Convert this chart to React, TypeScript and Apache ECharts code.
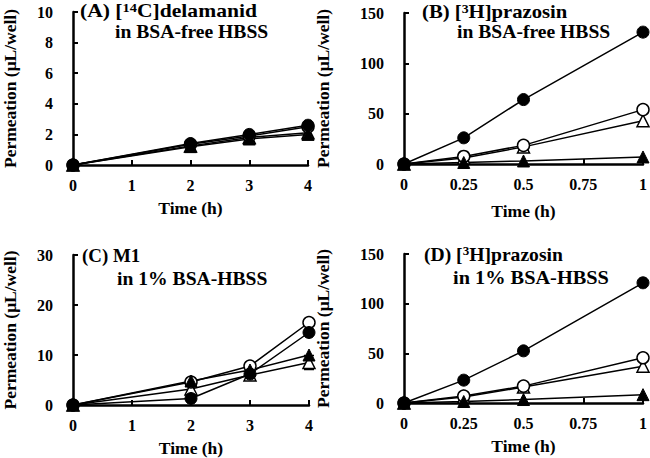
import React, { useEffect, useRef } from "react";
import * as echarts from "echarts";

const timesAC = [0, 2, 3, 4];
const timesBD = [0, 0.25, 0.5, 1];

const aFilledCircle = [0, 1.4, 2.0, 2.6];
const aOpenCircle = [0, 1.35, 1.9, 2.5];
const aFilledTriangle = [0, 1.2, 1.7, 2.0];
const aOpenTriangle = [0, 1.25, 1.8, 2.1];

const bFilledCircle = [0, 26, 64, 131];
const bOpenCircle = [0, 7.5, 18.5, 54];
const bOpenTriangle = [0, 6, 17, 43];
const bFilledTriangle = [0, 1.5, 3, 7];

const cFilledCircle = [0, 1.3, 6.2, 14.5];
const cOpenCircle = [0, 4.6, 7.8, 16.5];
const cFilledTriangle = [0, 4.8, 7.0, 10.0];
const cOpenTriangle = [0, 3.2, 6.0, 8.5];
const cOpenTriangleErr = [0, 0, 0, 1.4];

const dFilledCircle = [0, 23, 52.5, 121];
const dOpenCircle = [0, 7, 17, 45.5];
const dOpenTriangle = [0, 6, 16, 37];
const dFilledTriangle = [0, 1.5, 3.5, 8.4];

const xTicksAC = { min: 0, max: 4, interval: 1 };
const xTicksBD = { min: 0, max: 1, interval: 0.25 };
const yTicksA = { min: 0, max: 10, interval: 2 };
const yTicksB = { min: 0, max: 150, interval: 50 };
const yTicksC = { min: 0, max: 30, interval: 10 };
const yTicksD = { min: 0, max: 150, interval: 50 };

const panelTitles = [
  ["(A) [{sup|14}C]delamanid", "in BSA-free HBSS"],
  ["(B) [{sup|3}H]prazosin", "in BSA-free HBSS"],
  ["(C) M1", "in 1% BSA-HBSS"],
  ["(D) [{sup|3}H]prazosin", "in 1% BSA-HBSS"],
];
const xName = "Time (h)";
const yName = "Permeation (μL/well)";

const FONT = "Liberation Serif";

export default function App() {
  const ref = useRef<HTMLDivElement>(null);
  useEffect(() => {
    if (!ref.current) return;
    const chart = echarts.init(ref.current, null, { renderer: "svg" });

    const grids = [
      { left: 62, top: 12, width: 246, height: 153 },
      { left: 404, top: 13, width: 239, height: 151 },
      { left: 62, top: 255, width: 247, height: 151 },
      { left: 404, top: 254, width: 239, height: 149 },
    ];
    const xTicks = [xTicksAC, xTicksBD, xTicksAC, xTicksBD];
    const yTicks = [yTicksA, yTicksB, yTicksC, yTicksD];
    const yNameGaps = [54, 72, 54, 72];
    const xNameGaps = [34, 38, 34, 34];

    const axisLine = { show: true, lineStyle: { color: "#000", width: 2.5 } };
    const axisTick = { show: true, inside: true, length: 5, lineStyle: { color: "#000", width: 2 } };
    const axisLabel = { color: "#000", fontFamily: FONT, fontWeight: "bold", fontSize: 16 };
    const nameStyle = { color: "#000", fontFamily: FONT, fontWeight: "bold", fontSize: 17.5 };

    const xAxis = xTicks.map((t, i) => ({
      type: "value",
      gridIndex: i,
      ...t,
      axisLine,
      axisTick,
      splitLine: { show: false },
      axisLabel: { ...axisLabel, margin: 12 },
      name: xName,
      nameLocation: "middle",
      nameGap: xNameGaps[i],
      nameTextStyle: nameStyle,
    }));
    const yAxis = yTicks.map((t, i) => ({
      type: "value",
      gridIndex: i,
      ...t,
      axisLine,
      axisTick,
      splitLine: { show: false },
      axisLabel: { ...axisLabel, margin: 20 },
      name: yName,
      nameLocation: "middle",
      nameGap: yNameGaps[i],
      nameTextStyle: nameStyle,
    }));

    const styles: Record<string, any> = {
      openTriangle: { symbol: "triangle", itemStyle: { color: "#fff", borderColor: "#000", borderWidth: 1.5 } },
      openCircle: { symbol: "circle", itemStyle: { color: "#fff", borderColor: "#000", borderWidth: 1.5 } },
      filledCircle: { symbol: "circle", itemStyle: { color: "#000", borderColor: "#000", borderWidth: 1 } },
      filledTriangle: { symbol: "triangle", itemStyle: { color: "#000", borderColor: "#000", borderWidth: 1 } },
    };

    const panels = [
      { t: timesAC, d: { openTriangle: aOpenTriangle, openCircle: aOpenCircle, filledCircle: aFilledCircle, filledTriangle: aFilledTriangle } },
      { t: timesBD, d: { openTriangle: bOpenTriangle, openCircle: bOpenCircle, filledCircle: bFilledCircle, filledTriangle: bFilledTriangle } },
      { t: timesAC, d: { openTriangle: cOpenTriangle, openCircle: cOpenCircle, filledCircle: cFilledCircle, filledTriangle: cFilledTriangle } },
      { t: timesBD, d: { openTriangle: dOpenTriangle, openCircle: dOpenCircle, filledCircle: dFilledCircle, filledTriangle: dFilledTriangle } },
    ];

    const series: any[] = [];
    series.push({
      type: "custom",
      xAxisIndex: 2,
      yAxisIndex: 2,
      z: 1,
      data: timesAC.map((t, i) => [t, cOpenTriangle[i], cOpenTriangleErr[i]]),
      renderItem: (params: any, api: any) => {
        const x = api.value(0);
        const y = api.value(1);
        const e = api.value(2);
        if (!e) return null;
        const lo = api.coord([x, y - e]);
        const hi = api.coord([x, y + e]);
        const w = 5;
        const st = { stroke: "#000", lineWidth: 1.5 };
        return {
          type: "group",
          children: [
            { type: "line", shape: { x1: lo[0], y1: lo[1], x2: hi[0], y2: hi[1] }, style: st },
            { type: "line", shape: { x1: lo[0] - w, y1: lo[1], x2: lo[0] + w, y2: lo[1] }, style: st },
            { type: "line", shape: { x1: hi[0] - w, y1: hi[1], x2: hi[0] + w, y2: hi[1] }, style: st },
          ],
        };
      },
    });
    panels.forEach((p, i) => {
      Object.entries(p.d).forEach(([k, vals]) => {
        series.push({
          type: "line",
          xAxisIndex: i,
          yAxisIndex: i,
          data: p.t.map((t, j) => [t, (vals as number[])[j]]),
          symbolSize: 12,
          showSymbol: true,
          lineStyle: { color: "#000", width: 1.5 },
          ...styles[k],
          z: 2,
        });
      });
    });

    // [x1, y1, scale1, x2, y2, scale2]
    const titlePos = [
      [80, 2, 1.2, 115, 23, 1.09],
      [422, 3, 1.15, 457, 23, 1.09],
      [82, 247.5, 1.05, 117, 270, 1.09],
      [424, 245.5, 1.09, 453, 268.5, 1.13],
    ];
    const rich = {
      sup: { fontSize: 12, fontFamily: FONT, fontWeight: "bold", fill: "#000", verticalAlign: "top", lineHeight: 12 },
    };
    const graphic: any[] = [];
    panelTitles.forEach((tt, i) => {
      const pos = titlePos[i];
      graphic.push({
        type: "text",
        x: pos[0],
        y: pos[1],
        scaleX: pos[2],
        style: { text: tt[0], fontFamily: FONT, fontWeight: "bold", fontSize: 18, fill: "#000", rich },
      });
      graphic.push({
        type: "text",
        x: pos[3],
        y: pos[4],
        scaleX: pos[5],
        style: { text: tt[1], fontFamily: FONT, fontWeight: "bold", fontSize: 18, fill: "#000" },
      });
    });

    chart.setOption({
      animation: false,
      backgroundColor: "#fff",
      textStyle: { fontFamily: FONT, fontWeight: "bold", color: "#000" },
      grid: grids,
      xAxis,
      yAxis,
      series,
      graphic,
    });
    return () => chart.dispose();
  }, []);
  return <div ref={ref} style={{ width: 650, height: 458, position: "absolute", left: 0, top: 0 }} />;
}
